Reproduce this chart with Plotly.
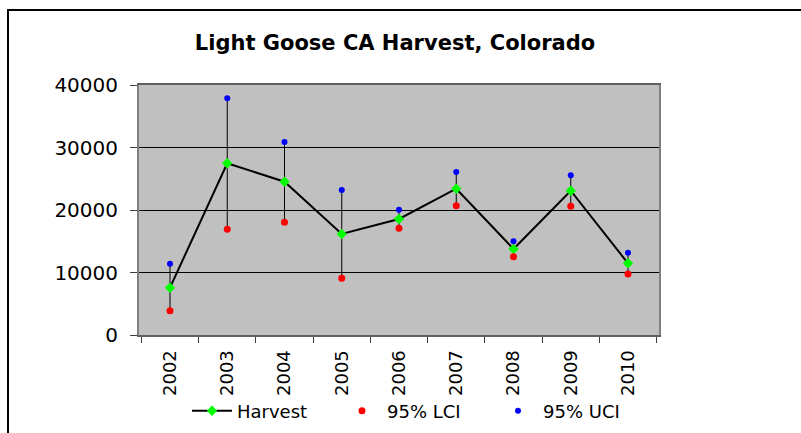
import plotly.graph_objects as go

years = ["2002", "2003", "2004", "2005", "2006", "2007", "2008", "2009", "2010"]
harvest = [7570, 27470, 24530, 16160, 18560, 23410, 13760, 23090, 11470]
lci = [3890, 16910, 18030, 9070, 17070, 20690, 12530, 20590, 9760]
uci = [11410, 37870, 30880, 23200, 20050, 26080, 14990, 25550, 13170]

err_plus = [u - h for u, h in zip(uci, harvest)]
err_minus = [h - l for h, l in zip(harvest, lci)]

FONT = "DejaVu Sans, Arial, sans-serif"

fig = go.Figure()
fig.add_trace(go.Scatter(
    x=years, y=harvest, name="Harvest", mode="lines+markers", legend="legend",
    line=dict(color="black", width=2),
    marker=dict(symbol="diamond", size=8, color="#00FF00"),
    error_y=dict(type="data", symmetric=False, array=err_plus, arrayminus=err_minus,
                 color="black", thickness=1, width=0),
))
fig.add_trace(go.Scatter(
    x=years, y=lci, name="95% LCI", mode="markers", legend="legend2",
    marker=dict(symbol="circle", size=7, color="#FF0000"),
))
fig.add_trace(go.Scatter(
    x=years, y=uci, name="95% UCI", mode="markers", legend="legend3",
    marker=dict(symbol="circle", size=6, color="#0000FF"),
))

L, R, T, B = 139, 142, 85, 98
W, H = 801, 433
pw, ph = W - L - R, H - T - B

fig.add_shape(type="rect", xref="paper", yref="paper",
              x0=(8 - L) / pw, x1=(W + 20 - L) / pw,
              y0=-(H + 20 - T - ph) / ph, y1=1 + (T - 10) / ph,
              line=dict(color="black", width=2), layer="below")


def leg(xpix):
    return dict(orientation="h", x=(xpix - L) / pw, xanchor="left",
                y=(335 - 411) / ph, yanchor="middle",
                font=dict(family=FONT, size=18), bgcolor="rgba(0,0,0,0)",
                itemwidth=40)


fig.update_layout(
    width=W, height=H,
    margin=dict(l=L, r=R, t=T, b=B, pad=0, autoexpand=False),
    paper_bgcolor="white", plot_bgcolor="#C0C0C0",
    font=dict(family=FONT, color="black", size=18),
    title=dict(text="<b>Light Goose CA Harvest, Colorado</b>", x=395 / W, xref="container",
               xanchor="center", y=1 - 43 / H, yref="container", yanchor="middle",
               font=dict(family=FONT, size=21, color="black")),
    showlegend=True,
    legend=leg(187), legend2=leg(337), legend3=leg(493),
    xaxis=dict(type="category", tickson="boundaries", ticks="outside", ticklen=6,
               tickcolor="#404040", tickangle=-90, showgrid=False, automargin=False,
               showline=True, linecolor="#606060", linewidth=2, mirror=True,
               ticklabelstandoff=6, tickfont=dict(size=18), fixedrange=True),
    yaxis=dict(range=[0, 40000], tickvals=[0, 10000, 20000, 30000, 40000],
               ticktext=["0", "10000", "20000", "30000", "40000"], automargin=False,
               ticks="outside", ticklen=7, tickcolor="#404040",
               showgrid=True, gridcolor="black", gridwidth=1,
               showline=True, linecolor="#808080", linewidth=2, mirror=True,
               zeroline=False, ticklabelstandoff=8, tickfont=dict(size=20)),
)

fig.write_html("out.html", config={"displayModeBar": False},
               post_script="document.body.style.margin='0';")
